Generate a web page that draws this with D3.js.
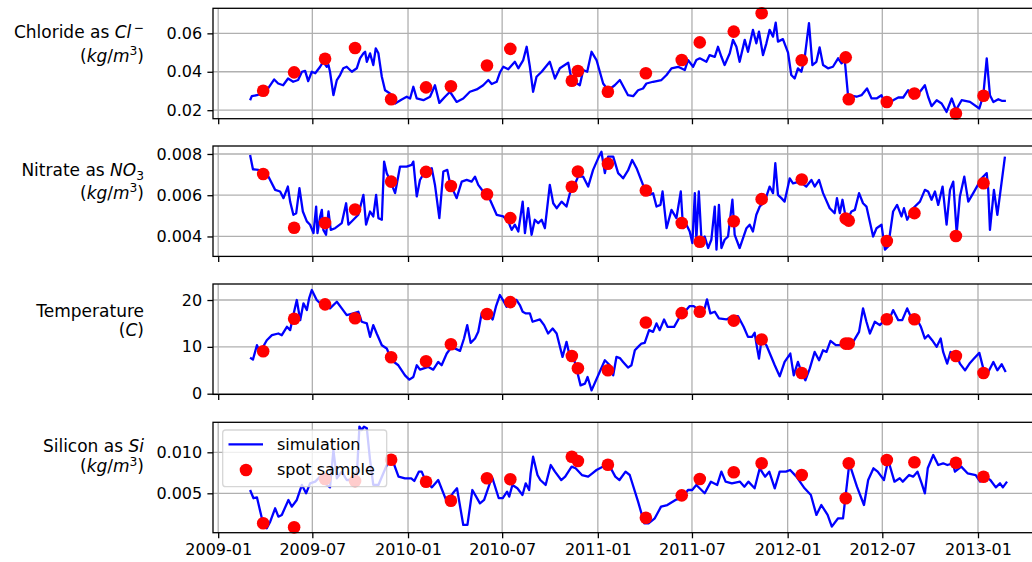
<!DOCTYPE html>
<html><head><meta charset="utf-8">
<script src="https://cdn.jsdelivr.net/npm/d3@7"></script>
<style>
body{margin:0;background:#fff}
svg{display:block}
text{font-family:"DejaVu Sans",sans-serif;fill:#000}
</style>
</head><body>
<svg id="c" width="1032" height="562"></svg>
<script>
// ---------- DATA (times as decimal years) ----------
const xTickLabels = ["2009-01","2009-07","2010-01","2010-07","2011-01","2011-07","2012-01","2012-07","2013-01"];
const chlorideTicks = [0.02,0.04,0.06];
const nitrateTicks = [0.004,0.006,0.008];
const temperatureTicks = [0,10,20];
const siliconTicks = [0.005,0.010];

const spotTimes = [2009.237,2009.400,2009.563,2009.721,2009.911,2010.095,2010.226,2010.416,2010.539,2010.863,2010.895,2011.053,2011.253,2011.442,2011.537,2011.716,2011.863,2012.074,2012.305,2012.321,2012.521,2012.666,2012.884,2013.029];
const chlorideSpot = [0.0301,0.0397,0.0468,0.0524,0.0257,0.0319,0.0325,0.0433,0.0519,0.0353,0.0404,0.0296,0.0392,0.0461,0.0553,0.0609,0.0705,0.0460,0.0475,0.0257,0.0243,0.0287,0.0183,0.0275];
const nitrateSpot = [0.00703,0.00442,0.00465,0.00531,0.00666,0.00713,0.00645,0.00605,0.00489,0.00641,0.00715,0.00753,0.00623,0.00465,0.00374,0.00474,0.00581,0.00676,0.00487,0.00477,0.00378,0.00513,0.00402,0.00658];
const temperatureSpot = [9.06,16.0,19.07,16.1,7.78,6.92,10.56,17.0,19.56,8.06,5.42,4.99,15.2,17.2,17.5,15.6,11.57,4.41,10.7,10.7,15.9,15.9,8.06,4.41];
const siliconSpot = [0.00134,0.00085,0.00674,0.0065,0.0091,0.00641,0.0041,0.00683,0.00671,0.00946,0.00894,0.00849,0.00202,0.00475,0.00674,0.00756,0.00866,0.00723,0.00439,0.00866,0.00906,0.00878,0.00873,0.00702];

const chlorideSim = [[2009.168,0.0252],[2009.177,0.0273],[2009.204,0.0278],[2009.237,0.029],[2009.263,0.0313],[2009.295,0.036],[2009.316,0.0339],[2009.342,0.033],[2009.368,0.0365],[2009.395,0.0348],[2009.421,0.0357],[2009.441,0.04],[2009.458,0.0405],[2009.474,0.0351],[2009.493,0.04],[2009.511,0.0392],[2009.537,0.0426],[2009.553,0.0452],[2009.572,0.0426],[2009.581,0.0435],[2009.589,0.04],[2009.607,0.0278],[2009.625,0.0357],[2009.642,0.0383],[2009.659,0.0418],[2009.677,0.0426],[2009.704,0.04],[2009.730,0.0418],[2009.747,0.047],[2009.765,0.0496],[2009.774,0.0504],[2009.783,0.0452],[2009.800,0.0496],[2009.817,0.0435],[2009.830,0.0522],[2009.844,0.0496],[2009.862,0.0374],[2009.879,0.0304],[2009.905,0.0287],[2009.932,0.0235],[2009.967,0.0256],[2009.993,0.027],[2010.011,0.0261],[2010.028,0.0322],[2010.046,0.0261],[2010.081,0.0252],[2010.116,0.027],[2010.142,0.033],[2010.165,0.0238],[2010.195,0.027],[2010.221,0.0296],[2010.256,0.0243],[2010.291,0.0261],[2010.326,0.0296],[2010.362,0.0308],[2010.396,0.033],[2010.423,0.0357],[2010.441,0.0336],[2010.467,0.0348],[2010.484,0.0396],[2010.502,0.0426],[2010.528,0.0413],[2010.563,0.0452],[2010.581,0.0418],[2010.607,0.0461],[2010.625,0.053],[2010.642,0.0426],[2010.659,0.0296],[2010.677,0.0374],[2010.704,0.04],[2010.747,0.0452],[2010.774,0.0365],[2010.800,0.0418],[2010.844,0.0447],[2010.862,0.0357],[2010.905,0.033],[2010.923,0.0409],[2010.944,0.04],[2010.967,0.0504],[2010.993,0.0461],[2011.028,0.0339],[2011.054,0.0304],[2011.089,0.033],[2011.116,0.0357],[2011.159,0.0278],[2011.186,0.0273],[2011.212,0.0304],[2011.238,0.0313],[2011.256,0.0339],[2011.291,0.0348],[2011.335,0.0357],[2011.362,0.0383],[2011.388,0.0418],[2011.423,0.0426],[2011.458,0.0409],[2011.475,0.0461],[2011.502,0.0426],[2011.519,0.0461],[2011.537,0.047],[2011.572,0.0452],[2011.589,0.0487],[2011.616,0.0478],[2011.633,0.053],[2011.651,0.0478],[2011.668,0.0435],[2011.695,0.0496],[2011.712,0.0566],[2011.730,0.053],[2011.747,0.0452],[2011.774,0.0566],[2011.791,0.0504],[2011.817,0.0618],[2011.835,0.0548],[2011.849,0.0609],[2011.870,0.0487],[2011.888,0.0548],[2011.905,0.0618],[2011.923,0.0583],[2011.937,0.0656],[2011.949,0.0557],[2011.975,0.057],[2012.002,0.05],[2012.019,0.0383],[2012.037,0.0365],[2012.054,0.0418],[2012.072,0.04],[2012.089,0.047],[2012.112,0.0653],[2012.130,0.0435],[2012.151,0.0452],[2012.168,0.0527],[2012.186,0.0435],[2012.212,0.0418],[2012.238,0.0426],[2012.265,0.047],[2012.283,0.0444],[2012.300,0.0461],[2012.317,0.0278],[2012.362,0.027],[2012.388,0.0278],[2012.417,0.0313],[2012.441,0.0261],[2012.467,0.0261],[2012.493,0.0278],[2012.519,0.0217],[2012.554,0.0252],[2012.581,0.0266],[2012.607,0.0266],[2012.633,0.0304],[2012.659,0.0261],[2012.695,0.0296],[2012.721,0.033],[2012.738,0.027],[2012.756,0.0221],[2012.783,0.0252],[2012.809,0.0235],[2012.835,0.0191],[2012.862,0.0261],[2012.884,0.02],[2012.914,0.0252],[2012.958,0.0243],[2013.007,0.0209],[2013.028,0.0278],[2013.046,0.047],[2013.063,0.0278],[2013.081,0.0243],[2013.107,0.0257],[2013.125,0.0249],[2013.147,0.0249]];

const nitrateSim = [[2009.168,0.00795],[2009.183,0.00726],[2009.212,0.00723],[2009.265,0.0069],[2009.300,0.00626],[2009.326,0.00618],[2009.344,0.00586],[2009.367,0.00642],[2009.379,0.00569],[2009.396,0.00505],[2009.411,0.00513],[2009.428,0.00634],[2009.446,0.00521],[2009.467,0.00473],[2009.484,0.00457],[2009.502,0.00416],[2009.516,0.00545],[2009.523,0.00416],[2009.537,0.00497],[2009.546,0.00529],[2009.554,0.00432],[2009.568,0.00408],[2009.581,0.00521],[2009.593,0.00432],[2009.616,0.0044],[2009.651,0.00465],[2009.674,0.00561],[2009.686,0.00457],[2009.712,0.00481],[2009.738,0.00505],[2009.765,0.00602],[2009.779,0.00457],[2009.800,0.00521],[2009.817,0.00497],[2009.832,0.00602],[2009.844,0.00489],[2009.862,0.00481],[2009.874,0.00763],[2009.888,0.00707],[2009.905,0.00674],[2009.932,0.0061],[2009.958,0.00739],[2009.993,0.00739],[2010.019,0.00747],[2010.028,0.00763],[2010.046,0.00594],[2010.063,0.00674],[2010.089,0.00715],[2010.125,0.00731],[2010.142,0.0065],[2010.165,0.00489],[2010.186,0.00715],[2010.207,0.00723],[2010.221,0.00658],[2010.256,0.00586],[2010.283,0.00666],[2010.309,0.00674],[2010.335,0.00666],[2010.353,0.0069],[2010.370,0.0065],[2010.396,0.00618],[2010.432,0.00578],[2010.467,0.00505],[2010.502,0.00497],[2010.528,0.00473],[2010.546,0.00432],[2010.563,0.00457],[2010.581,0.00424],[2010.604,0.00569],[2010.616,0.00416],[2010.633,0.00537],[2010.651,0.00408],[2010.668,0.00481],[2010.686,0.00465],[2010.704,0.00481],[2010.721,0.0044],[2010.747,0.0065],[2010.765,0.00561],[2010.783,0.00537],[2010.809,0.00569],[2010.835,0.00545],[2010.853,0.0061],[2010.870,0.00634],[2010.896,0.0069],[2010.923,0.0069],[2010.949,0.00642],[2010.975,0.00723],[2011.002,0.0078],[2011.019,0.00811],[2011.037,0.00707],[2011.054,0.00787],[2011.081,0.00787],[2011.107,0.00707],[2011.116,0.00699],[2011.133,0.00682],[2011.159,0.0072],[2011.181,0.00771],[2011.204,0.00731],[2011.238,0.0065],[2011.274,0.00602],[2011.291,0.0061],[2011.309,0.00545],[2011.330,0.00553],[2011.341,0.00618],[2011.362,0.0044],[2011.388,0.00529],[2011.414,0.00489],[2011.437,0.00618],[2011.449,0.0044],[2011.467,0.00457],[2011.484,0.00424],[2011.498,0.00368],[2011.511,0.0061],[2011.519,0.00384],[2011.532,0.00618],[2011.546,0.00384],[2011.563,0.004],[2011.581,0.00344],[2011.598,0.00384],[2011.616,0.00545],[2011.625,0.00336],[2011.638,0.00553],[2011.651,0.00344],[2011.668,0.00384],[2011.686,0.004],[2011.709,0.00578],[2011.721,0.00408],[2011.747,0.00344],[2011.765,0.00392],[2011.783,0.0044],[2011.800,0.00457],[2011.817,0.00424],[2011.835,0.00505],[2011.853,0.00545],[2011.879,0.00569],[2011.905,0.00642],[2011.923,0.0061],[2011.935,0.00755],[2011.949,0.00602],[2011.967,0.00586],[2011.984,0.00569],[2012.011,0.00682],[2012.028,0.00658],[2012.063,0.00666],[2012.098,0.00642],[2012.125,0.00674],[2012.142,0.00642],[2012.165,0.00674],[2012.186,0.0061],[2012.221,0.00537],[2012.247,0.00513],[2012.259,0.00586],[2012.274,0.00513],[2012.288,0.00578],[2012.309,0.00473],[2012.335,0.00521],[2012.353,0.00529],[2012.375,0.0061],[2012.396,0.00561],[2012.414,0.00545],[2012.449,0.004],[2012.467,0.0044],[2012.493,0.00457],[2012.511,0.00336],[2012.528,0.00352],[2012.554,0.00521],[2012.575,0.00553],[2012.598,0.00497],[2012.611,0.00537],[2012.628,0.00481],[2012.659,0.00537],[2012.695,0.00569],[2012.721,0.00626],[2012.738,0.00618],[2012.756,0.00578],[2012.774,0.00618],[2012.791,0.00553],[2012.814,0.00642],[2012.835,0.00457],[2012.853,0.00626],[2012.870,0.00666],[2012.888,0.00416],[2012.905,0.00594],[2012.928,0.0069],[2012.949,0.00569],[2012.975,0.0061],[2013.019,0.00682],[2013.046,0.00707],[2013.054,0.00626],[2013.063,0.00432],[2013.084,0.00626],[2013.102,0.00505],[2013.142,0.00787]];

const temperatureSim = [[2009.168,7.71],[2009.183,7.28],[2009.204,10.35],[2009.221,8.91],[2009.256,11.42],[2009.283,12.49],[2009.317,12.85],[2009.335,12.49],[2009.362,14.28],[2009.379,13.57],[2009.396,16.78],[2009.414,20.0],[2009.432,15.7],[2009.449,19.28],[2009.467,17.85],[2009.479,20.35],[2009.493,22.14],[2009.519,20.0],[2009.546,18.93],[2009.589,18.21],[2009.625,19.64],[2009.651,18.21],[2009.677,16.78],[2009.712,17.14],[2009.738,17.5],[2009.756,15.36],[2009.783,15.0],[2009.800,12.14],[2009.817,14.64],[2009.835,12.85],[2009.862,10.35],[2009.888,9.64],[2009.914,7.14],[2009.949,6.07],[2009.984,3.92],[2010.007,3.0],[2010.028,3.57],[2010.046,6.07],[2010.063,5.14],[2010.107,5.71],[2010.133,5.14],[2010.159,6.78],[2010.177,6.07],[2010.204,8.57],[2010.230,10.0],[2010.274,9.14],[2010.295,11.78],[2010.312,14.64],[2010.330,10.85],[2010.353,11.78],[2010.370,13.21],[2010.388,17.14],[2010.414,17.5],[2010.446,15.85],[2010.463,18.57],[2010.484,21.07],[2010.505,19.64],[2010.519,18.57],[2010.546,20.0],[2010.572,20.0],[2010.589,18.93],[2010.604,17.5],[2010.621,17.14],[2010.642,17.14],[2010.656,15.36],[2010.695,15.85],[2010.717,14.64],[2010.738,12.85],[2010.762,13.92],[2010.783,12.85],[2010.814,7.85],[2010.835,11.07],[2010.853,7.85],[2010.879,6.78],[2010.909,1.78],[2010.932,2.14],[2010.946,3.57],[2010.967,0.71],[2011.002,3.92],[2011.037,7.14],[2011.063,6.07],[2011.081,3.92],[2011.098,7.85],[2011.116,7.6],[2011.133,6.78],[2011.159,5.57],[2011.177,6.07],[2011.195,9.28],[2011.212,10.0],[2011.230,10.71],[2011.247,10.85],[2011.270,13.57],[2011.291,13.21],[2011.309,15.0],[2011.326,13.57],[2011.349,15.85],[2011.367,14.28],[2011.402,14.28],[2011.432,16.42],[2011.458,17.5],[2011.484,18.7],[2011.505,18.7],[2011.528,18.0],[2011.563,18.21],[2011.575,20.14],[2011.593,17.14],[2011.616,17.5],[2011.638,16.07],[2011.677,15.85],[2011.704,16.42],[2011.738,16.57],[2011.768,14.28],[2011.791,12.14],[2011.812,12.14],[2011.826,13.0],[2011.838,10.0],[2011.849,7.5],[2011.862,11.42],[2011.888,10.35],[2011.914,7.85],[2011.932,6.07],[2011.958,3.71],[2011.984,6.78],[2012.014,8.57],[2012.032,3.92],[2012.054,6.78],[2012.072,4.64],[2012.093,2.86],[2012.116,5.35],[2012.142,8.92],[2012.165,7.14],[2012.186,9.28],[2012.204,8.92],[2012.225,11.28],[2012.253,10.35],[2012.274,10.35],[2012.309,10.35],[2012.344,11.07],[2012.375,13.21],[2012.396,18.21],[2012.414,15.36],[2012.432,12.85],[2012.458,15.36],[2012.484,14.64],[2012.519,16.07],[2012.541,16.57],[2012.554,17.85],[2012.581,15.71],[2012.602,15.71],[2012.628,18.21],[2012.651,16.07],[2012.686,15.36],[2012.700,14.28],[2012.721,11.78],[2012.738,12.49],[2012.759,11.42],[2012.783,10.0],[2012.804,11.78],[2012.817,8.92],[2012.838,6.43],[2012.856,8.92],[2012.888,8.21],[2012.905,6.43],[2012.932,4.99],[2012.958,6.57],[2012.979,7.5],[2013.007,8.71],[2013.028,5.35],[2013.054,4.64],[2013.081,6.78],[2013.102,4.99],[2013.125,6.28],[2013.146,4.64]];

const siliconSim = [[2009.168,0.0054],[2009.186,0.0044],[2009.204,0.00451],[2009.230,0.00195],[2009.256,0.00073],[2009.274,0.00154],[2009.300,0.00317],[2009.317,0.00215],[2009.335,0.00236],[2009.370,0.00419],[2009.388,0.00337],[2009.414,0.00419],[2009.441,0.00602],[2009.463,0.005],[2009.484,0.00622],[2009.511,0.00642],[2009.537,0.00703],[2009.572,0.00602],[2009.589,0.00573],[2009.607,0.01028],[2009.625,0.00683],[2009.651,0.00764],[2009.677,0.00662],[2009.712,0.00662],[2009.730,0.00703],[2009.744,0.01313],[2009.756,0.01272],[2009.768,0.01313],[2009.783,0.01293],[2009.800,0.00906],[2009.817,0.00602],[2009.844,0.00602],[2009.870,0.00744],[2009.896,0.00886],[2009.918,0.00906],[2009.950,0.00703],[2009.984,0.00683],[2010.017,0.00683],[2010.033,0.0065],[2010.057,0.00764],[2010.072,0.00764],[2010.094,0.00642],[2010.126,0.00573],[2010.159,0.00662],[2010.204,0.00398],[2010.236,0.005],[2010.258,0.00561],[2010.291,0.00114],[2010.313,0.00114],[2010.339,0.0054],[2010.379,0.00378],[2010.401,0.00419],[2010.434,0.00642],[2010.445,0.00683],[2010.478,0.0044],[2010.499,0.0044],[2010.522,0.0052],[2010.533,0.00459],[2010.550,0.00602],[2010.576,0.00561],[2010.603,0.0048],[2010.620,0.00622],[2010.638,0.0054],[2010.646,0.00744],[2010.659,0.00947],[2010.682,0.00723],[2010.697,0.00662],[2010.725,0.00602],[2010.752,0.00845],[2010.774,0.00764],[2010.807,0.00662],[2010.828,0.00703],[2010.862,0.00825],[2010.883,0.00805],[2010.916,0.00723],[2010.949,0.00703],[2010.971,0.00744],[2010.993,0.00784],[2011.026,0.00825],[2011.059,0.00845],[2011.092,0.00703],[2011.114,0.00662],[2011.146,0.00764],[2011.168,0.00723],[2011.212,0.00398],[2011.245,0.00134],[2011.267,0.00134],[2011.300,0.00195],[2011.333,0.00337],[2011.366,0.00357],[2011.409,0.00419],[2011.443,0.0044],[2011.475,0.0054],[2011.497,0.0054],[2011.519,0.00602],[2011.563,0.005],[2011.596,0.00642],[2011.629,0.00602],[2011.651,0.00764],[2011.673,0.00642],[2011.706,0.00622],[2011.749,0.00642],[2011.772,0.00581],[2011.793,0.00642],[2011.826,0.00561],[2011.853,0.00805],[2011.881,0.00703],[2011.903,0.00764],[2011.932,0.00561],[2011.958,0.00764],[2011.991,0.00764],[2012.013,0.00784],[2012.046,0.00703],[2012.089,0.00561],[2012.122,0.0048],[2012.151,0.00236],[2012.177,0.00357],[2012.210,0.00236],[2012.232,0.00093],[2012.265,0.00195],[2012.291,0.00195],[2012.324,0.00866],[2012.364,0.00581],[2012.401,0.00357],[2012.423,0.00662],[2012.451,0.00805],[2012.473,0.00764],[2012.506,0.00662],[2012.528,0.00906],[2012.561,0.00642],[2012.589,0.00683],[2012.605,0.00642],[2012.638,0.00723],[2012.659,0.00703],[2012.682,0.00764],[2012.704,0.00622],[2012.721,0.005],[2012.736,0.00805],[2012.765,0.00967],[2012.791,0.00845],[2012.817,0.00866],[2012.839,0.00845],[2012.868,0.00866],[2012.879,0.00764],[2012.912,0.00825],[2012.945,0.00744],[2012.988,0.00723],[2013.011,0.00642],[2013.037,0.00703],[2013.065,0.00662],[2013.094,0.00573],[2013.116,0.00622],[2013.131,0.00573],[2013.153,0.00642]];

// ---------- LAYOUT ----------
const X0 = 213, X1 = 1043, PH = 110.4;
const FS = 16, LFS = 17;
const svg = d3.select("#c");

function decYear(t){
  const y = Math.floor(t);
  const s = new Date(y,0,1), e = new Date(y+1,0,1);
  return new Date(+s + (t - y) * (e - s));
}
const parseM = d3.timeParse("%Y-%m");
const xTicks = xTickLabels.map(parseM);
const x = d3.scaleTime().domain([new Date(2008,11,22), new Date(2013,4,6)]).range([X0, X1]);

const units = [{t:"("},{t:"kg",i:1},{t:"/"},{t:"m",i:1},{t:"3",sup:1},{t:")"}];
const panels = [
  {sim: chlorideSim, spot: chlorideSpot, top: 8.3, dom:[0.01557,0.07304], ticks: chlorideTicks, fmt: d3.format(".2f"),
   base:[38,61.5],
   lines:[[{t:"Chloride as "},{t:"Cl",i:1},{t:"\u2009\u2212",sup:1}], units]},
  {sim: nitrateSim, spot: nitrateSpot, top: 146, dom:[0.003033,0.008387], ticks: nitrateTicks, fmt: d3.format(".3f"),
   base:[176,198.5],
   lines:[[{t:"Nitrate as "},{t:"NO",i:1},{t:"3",sub:1}], units]},
  {sim: temperatureSim, spot: temperatureSpot, top: 284, dom:[-0.15,23.42], ticks: temperatureTicks, fmt: d3.format("d"),
   base:[317,336],
   lines:[[{t:"Temperature"}], [{t:"("},{t:"C",i:1},{t:")"}]]},
  {sim: siliconSim, spot: siliconSpot, top: 422.3, dom:[0.000195,0.01366], ticks: siliconTicks, fmt: d3.format(".3f"),
   base:[452,472],
   lines:[[{t:"Silicon as "},{t:"Si",i:1}], units]}
];

panels.forEach((p, idx) => {
  const top = p.top, bot = p.top + PH;
  const y = d3.scaleLinear().domain(p.dom).range([bot, top]);
  const g = svg.append("g");

  // grid
  g.append("g").selectAll("line").data(xTicks).join("line")
    .attr("x1", d => x(d)).attr("x2", d => x(d)).attr("y1", top).attr("y2", bot)
    .attr("stroke", "#b0b0b0").attr("stroke-width", 1.3);
  g.append("g").selectAll("line").data(p.ticks).join("line")
    .attr("x1", X0).attr("x2", X1).attr("y1", d => y(d)).attr("y2", d => y(d))
    .attr("stroke", "#b0b0b0").attr("stroke-width", 1.3);

  // simulation line
  const line = d3.line().x(d => x(decYear(d[0]))).y(d => y(d[1]));
  g.append("path").datum(p.sim).attr("d", line)
    .attr("fill", "none").attr("stroke", "#0000ff").attr("stroke-width", 2.3)
    .attr("stroke-linejoin", "round");

  // spot samples
  g.append("g").selectAll("circle").data(p.spot).join("circle")
    .attr("cx", (d, i) => x(decYear(spotTimes[i]))).attr("cy", d => y(d))
    .attr("r", 6.3).attr("fill", "#ff0000");

  // frame
  g.append("rect").attr("x", X0).attr("y", top).attr("width", X1 - X0).attr("height", PH)
    .attr("fill", "none").attr("stroke", "#000").attr("stroke-width", 1.3);

  // y axis
  const ya = g.append("g").attr("transform", `translate(${X0},0)`)
    .call(d3.axisLeft(y).tickValues(p.ticks).tickFormat(p.fmt).tickSize(5.6).tickPadding(5.2));
  ya.select(".domain").remove();
  ya.selectAll(".tick line").attr("stroke", "#000").attr("stroke-width", 1.3);
  ya.selectAll(".tick text").attr("font-size", FS).attr("font-family", "DejaVu Sans");

  // x axis
  const xa = g.append("g").attr("transform", `translate(0,${bot})`)
    .call(d3.axisBottom(x).tickValues(xTicks).tickFormat(d3.timeFormat("%Y-%m")).tickSize(5.6).tickPadding(5.4));
  xa.select(".domain").remove();
  xa.selectAll(".tick line").attr("stroke", "#000").attr("stroke-width", 1.3);
  xa.selectAll(".tick text").attr("font-size", FS).attr("font-family", "DejaVu Sans");
  if (idx < panels.length - 1) xa.selectAll(".tick text").remove();

  // y label (two lines, right aligned)
  p.lines.forEach((segs, li) => {
    const t = svg.append("text").attr("x", 144).attr("y", p.base[li])
      .attr("text-anchor", "end").attr("font-size", LFS);
    let pending = 0;
    segs.forEach(s => {
      const ts = t.append("tspan").text(s.t);
      let shift = 0;
      if (s.sup) shift = -6.5;
      else if (s.sub) shift = 3.8;
      if (s.sup || s.sub) ts.attr("font-size", LFS * 0.72);
      if (s.i) ts.attr("font-style", "italic");
      const dy = pending + shift;
      if (dy !== 0) ts.attr("dy", dy);
      pending = -shift;
    });
  });

  // legend in last panel
  if (idx === panels.length - 1) {
    const lg = svg.append("g");
    lg.append("rect").attr("x", 222.7).attr("y", 430).attr("width", 164).attr("height", 56.7)
      .attr("rx", 3).attr("fill", "#fff").attr("fill-opacity", 0.8)
      .attr("stroke", "#cccccc").attr("stroke-opacity", 0.8).attr("stroke-width", 1.3);
    lg.append("line").attr("x1", 228.5).attr("x2", 263).attr("y1", 444.3).attr("y2", 444.3)
      .attr("stroke", "#0000ff").attr("stroke-width", 2.3);
    lg.append("circle").attr("cx", 246).attr("cy", 470).attr("r", 6.3).attr("fill", "#ff0000");
    lg.append("text").attr("x", 277).attr("y", 450).attr("font-size", FS).text("simulation");
    lg.append("text").attr("x", 277).attr("y", 474.5).attr("font-size", FS).text("spot sample");
  }
});
</script>
</body></html>
